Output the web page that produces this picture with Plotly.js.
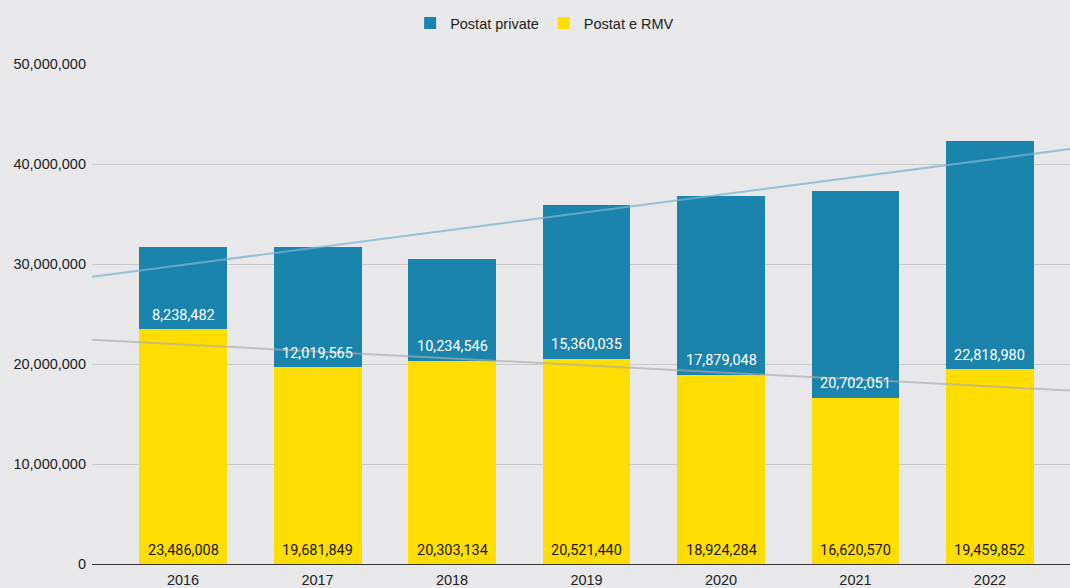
<!DOCTYPE html>
<html>
<head>
<meta charset="utf-8">
<script src="https://cdn.plot.ly/plotly-3.0.1.min.js"></script>
<style>
html,body{margin:0;padding:0;background:#e8e8ea;}
#chart{width:1070px;height:588px;}
</style>
</head>
<body>
<div id="chart"></div>
<script>
const years = ["2016","2017","2018","2019","2020","2021","2022"];
const postatRMV = [23486008, 19681849, 20303134, 20521440, 18924284, 16620570, 19459852];
const postatPrivate = [8238482, 12019565, 10234546, 15360035, 17879048, 20702051, 22818980];

const idx = years.map((_, i) => i);
const xRange = [-0.677, 6.595];

function linFit(xs, ys) {
  const n = xs.length;
  const mx = xs.reduce((a, b) => a + b, 0) / n;
  const my = ys.reduce((a, b) => a + b, 0) / n;
  let sxy = 0, sxx = 0;
  for (let i = 0; i < n; i++) { sxy += (xs[i] - mx) * (ys[i] - my); sxx += (xs[i] - mx) ** 2; }
  const m = sxy / sxx;
  return x => my + m * (x - mx);
}
const totals = postatRMV.map((v, i) => v + postatPrivate[i]);
const fitTotal = linFit(idx, totals);
const fitRMV = linFit(idx, postatRMV);

const fmt = v => v.toLocaleString('en-US');

const traces = [
  {
    type: 'bar', name: 'Postat e RMV', x: idx, y: postatRMV,
    marker: {color: '#ffdd00'}, width: 0.654, hoverinfo: 'skip'
  },
  {
    type: 'bar', name: 'Postat private', x: idx, y: postatPrivate,
    marker: {color: '#1a84ad'}, width: 0.654, hoverinfo: 'skip'
  },
  {
    type: 'scatter', mode: 'lines', x: xRange, y: xRange.map(fitTotal),
    line: {color: 'rgba(120,180,210,0.75)', width: 2}, showlegend: false, hoverinfo: 'skip'
  },
  {
    type: 'scatter', mode: 'lines', x: xRange, y: xRange.map(fitRMV),
    line: {color: 'rgba(170,170,170,0.65)', width: 2}, showlegend: false, hoverinfo: 'skip'
  }
];

const annotations = [];
idx.forEach(i => {
  annotations.push({
    x: i, y: 0, xref: 'x', yref: 'y', yshift: 14, showarrow: false,
    text: fmt(postatRMV[i]), font: {family: 'Roboto', size: 14.5, color: '#1a1a1a'},
    xanchor: 'center', yanchor: 'middle'
  });
  annotations.push({
    x: i, y: postatRMV[i], xref: 'x', yref: 'y', yshift: 14, showarrow: false,
    text: fmt(postatPrivate[i]), font: {family: 'Roboto', size: 14.5, color: '#ffffff'},
    xanchor: 'center', yanchor: 'middle'
  });
});

const layout = {
  width: 1070, height: 588,
  paper_bgcolor: '#e8e8ea', plot_bgcolor: '#e8e8ea',
  margin: {l: 92, r: 0, t: 64, b: 24},
  barmode: 'stack',
  font: {family: 'Liberation Sans, Arial, sans-serif', size: 14, color: '#222'},
  showlegend: true,
  legend: {orientation: 'h', xref: 'container', yref: 'container', x: 0.509, xanchor: 'center',
           y: 1 - 23 / 588, yanchor: 'middle',
           traceorder: 'reversed', font: {size: 14.5, color: '#222'}},
  annotations: annotations,
  xaxis: {
    range: xRange, tickvals: idx, ticktext: years, showgrid: false,
    zeroline: false, showline: false, ticks: '', ticklabelstandoff: 5,
    tickfont: {size: 14.5, color: '#222'}
  },
  yaxis: {
    range: [0, 50000000], dtick: 10000000, tickformat: ',d',
    gridcolor: '#c8c8ca', gridwidth: 1, zeroline: true, zerolinecolor: '#333', zerolinewidth: 1,
    showline: false, ticks: '', ticklabelstandoff: 5, tickfont: {size: 14.5, color: '#222'}
  }
};

Plotly.newPlot('chart', traces, layout, {displayModeBar: false, staticPlot: true});
</script>
</body>
</html>
